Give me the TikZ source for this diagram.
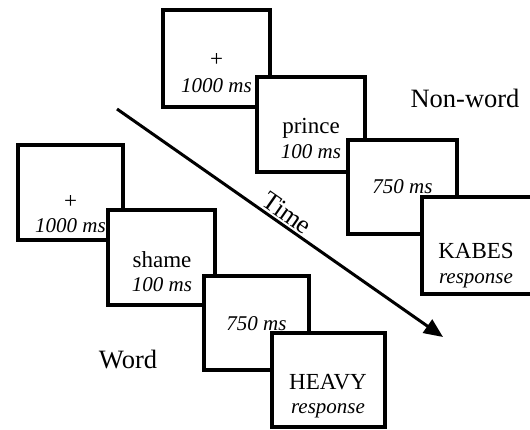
\documentclass[tikz,border=0pt]{standalone}
\usepackage{fontspec}
\setmainfont{Liberation Serif}
\usetikzlibrary{arrows.meta}
\begin{document}
\begin{tikzpicture}[x=1pt,y=-1pt,
  screen/.style={draw=black,fill=white,line width=4pt,rectangle,inner sep=0pt},
  wordtxt/.style={font=\fontsize{23}{23}\selectfont,anchor=base,inner sep=0pt},
  timetxt/.style={font=\fontsize{21}{21}\selectfont\itshape,anchor=base,inner sep=0pt},
  cond/.style={font=\fontsize{26.5}{26.5}\selectfont,anchor=base,inner sep=0pt},
  timearrow/.style={line width=3pt,-{Triangle[length=19pt,width=16pt]}}]
\useasboundingbox (0,0) rectangle (530,429);
% Non-word sequence
\draw[screen] (163,10) rectangle (270,107);
\node[wordtxt] (nw1a) at (216.5,66) {+};
\node[timetxt] (nw1b) at (216.5,92) {1000 ms};
\draw[screen] (257,77) rectangle (365,172);
\node[wordtxt] (nw2a) at (311,133) {prince};
\node[timetxt] (nw2b) at (311,158) {100 ms};
\draw[screen] (348,140) rectangle (457,234);
\node[timetxt] (nw3a) at (402.5,193) {750 ms};
\draw[screen] (422,197) rectangle (534,294);
\node[wordtxt] (nw4a) at (476,258) {KABES};
\node[timetxt] (nw4b) at (476,283) {response};
\node[cond] (nwlab) at (465,107) {Non-word};
% Word sequence
\draw[screen] (18,145) rectangle (123,240);
\node[wordtxt] (w1a) at (70.5,208) {+};
\node[timetxt] (w1b) at (70.5,232) {1000 ms};
\draw[screen] (108,210) rectangle (215,305);
\node[wordtxt] (w2a) at (162,267) {shame};
\node[timetxt] (w2b) at (162,291) {100 ms};
\draw[screen] (204,276) rectangle (309,370);
\node[timetxt] (w3a) at (256.5,330) {750 ms};
\draw[screen] (272,333) rectangle (385,427);
\node[wordtxt] (w4a) at (328,389) {HEAVY};
\node[timetxt] (w4b) at (328,413) {response};
\node[cond] (wlab) at (128,368) {Word};
% Time arrow
\coordinate (tstart) at (117,109);
\coordinate (tend) at (443,337);
\draw[timearrow] (tstart) -- node[midway,above,sloped,inner sep=2pt,font=\fontsize{26}{26}\selectfont] (tlab) {Time} (tend);
\end{tikzpicture}
\end{document}
